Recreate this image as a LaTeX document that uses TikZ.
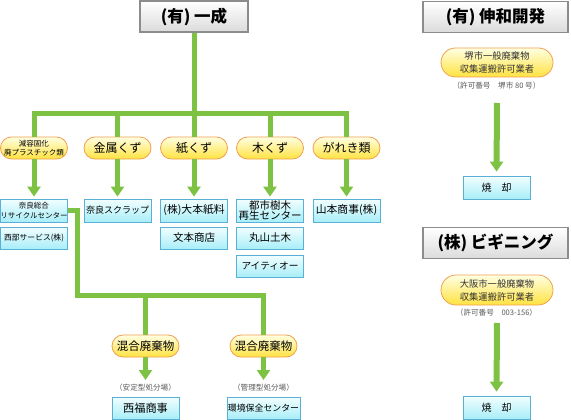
\documentclass[tikz,border=0pt]{standalone}
\usepackage{fontspec}
\setmainfont{Noto Sans CJK JP}
\usetikzlibrary{arrows.meta}
\definecolor{grn}{HTML}{7DC242}
\definecolor{pillt}{HTML}{FFFFE2}
\definecolor{pillbot}{HTML}{FFE240}
\definecolor{pillb}{HTML}{F0A050}
\definecolor{boxt}{HTML}{F2FEFF}
\definecolor{boxbot}{HTML}{A8EEF8}
\definecolor{boxb}{HTML}{5AAFD6}
\newcommand\fs[1]{\fontsize{#1pt}{#1pt}\selectfont}
\newcommand\fsb[2]{\fontsize{#1pt}{#2pt}\selectfont}
\tikzset{
  gline/.style={draw=grn, line width=5pt},
  garrow/.style={gline, -{Triangle[width=13pt,length=10pt]}},
  topbox/.style={rectangle, draw=gray!90, line width=1.2pt, top color=white, bottom color=gray!28,
    inner sep=0pt, font=\fs{16.5}\bfseries, minimum height=31pt},
  pill/.style={rectangle, rounded corners=11pt, draw=pillb, line width=0.8pt, top color=pillt,
    bottom color=pillbot, minimum width=67pt, minimum height=22pt, inner sep=0pt, align=center},
  cbox/.style={rectangle, draw=boxb, line width=0.8pt, top color=boxt, bottom color=boxbot,
    minimum width=67pt, minimum height=22pt, inner sep=0pt, align=center},
  captxt/.style={inner sep=0pt, text=gray!70!black, font=\fs{7.6}},
}
\begin{document}
\begin{tikzpicture}[x=1pt,y=-1pt]
\useasboundingbox (0,0) rectangle (571,420);
% top boxes
\node[topbox, minimum width=108pt] (t1) at (194,16.5) {(有) 一成};
\node[topbox, minimum width=145pt] (t2) at (495.5,17) {(有) 伸和開発};
\node[topbox, minimum width=145pt] (t3) at (495.5,243) {(株) ビギニング};
% pills row
\node[pill, font=\fsb{7.5}{9}] (p1) at (34,148) {減容固化\\廃プラスチック類};
\node[pill, font=\fs{12}] (p2) at (117.5,148) {金属くず};
\node[pill, font=\fs{12}] (p3) at (194,148) {紙くず};
\node[pill, font=\fs{12}] (p4) at (270,148) {木くず};
\node[pill, font=\fs{12}] (p5) at (346.5,148) {がれき類};
% boxes
\node[cbox, minimum height=23pt, font=\fsb{7.5}{10}] (b1) at (34,210.5) {奈良総合\\リサイクルセンター};
\node[cbox, font=\fs{7.8}] (b1b) at (34,238) {西部サービス(株)};
\node[cbox, minimum height=23pt, font=\fs{9}] (b2) at (117.5,210.5) {奈良スクラップ};
\node[cbox, minimum height=23pt, font=\fs{10.8}] (b3) at (194,210.5) {(株)大本紙料};
\node[cbox, font=\fs{10.5}] (b3b) at (194,238) {文本商店};
\node[cbox, minimum height=23pt, font=\fsb{10.5}{10.5}] (b4) at (270,210.5) {都市樹木\\再生センター};
\node[cbox, font=\fs{10.5}] (b4b) at (270,238) {丸山土木};
\node[cbox, font=\fs{9.7}] (b4c) at (270,266) {アイティオー};
\node[cbox, minimum height=23pt, font=\fs{10.8}] (b5) at (346.5,210.5) {山本商事(株)};
% bottom
\node[pill, font=\fs{11.5}] (q1) at (145.5,346) {混合廃棄物};
\node[pill, font=\fs{11.5}] (q2) at (263.5,346) {混合廃棄物};
\node[captxt] (c1) at (145.5,388) {（安定型処分場）};
\node[captxt] (c2) at (263.5,388) {（管理型処分場）};
\node[cbox, font=\fs{11.2}] (d1) at (145.5,408) {西福商事};
\node[cbox, minimum width=73pt, font=\fs{8.9}] (d2) at (263.5,408) {環境保全センター};
% right column
\node[pill, rounded corners=14.5pt, minimum width=112pt, minimum height=29pt, text=black!80, font=\fsb{9.3}{13}] (rp1) at (497,62.5) {堺市一般廃棄物\\収集運搬許可業者};
\node[captxt] (rc1) at (496.5,86) {（許可番号　堺市 80 号）};
\node[cbox, minimum height=23pt, font=\fs{10}] (y1) at (496.5,187.5) {焼　却};
\node[pill, rounded corners=15pt, minimum width=112pt, minimum height=30pt, text=black!80, font=\fsb{9.3}{13}] (rp2) at (497,290) {大阪市一般廃棄物\\収集運搬許可業者};
\node[captxt] (rc2) at (496.5,313) {（許可番号　003-156）};
\node[cbox, minimum height=23pt, font=\fs{10}] (y2) at (496.5,407.5) {焼　却};
% coordinates
\coordinate (j0) at (194,114);
\coordinate (k1) at (77,295);
\coordinate (a1) at (145.5,380);
\coordinate (a2) at (263.5,380);
\coordinate (rs1) at (497,103);
\coordinate (rs2) at (497,323);
% connectors
\draw[gline] (t1.south) -- (j0);
\draw[gline] (p1.north) |- (j0) -| (p5.north);
\draw[gline] (p2.north |- j0) -- (p2.north);
\draw[gline] (p3.north |- j0) -- (p3.north);
\draw[gline] (p4.north |- j0) -- (p4.north);
\draw[garrow, shorten >=2pt] (p1.south) -- (b1.north);
\draw[garrow, shorten >=2pt] (p2.south) -- (b2.north);
\draw[garrow, shorten >=2pt] (p3.south) -- (b3.north);
\draw[garrow, shorten >=2pt] (p4.south) -- (b4.north);
\draw[garrow, shorten >=2pt] (p5.south) -- (b5.north);
\draw[gline] (b1.east) -| (k1) -| (q2.north);
\draw[gline] (k1 -| q1.north) -- (q1.north);
\draw[garrow] (q1.south) -- (a1);
\draw[garrow] (q2.south) -- (a2);
\draw[garrow, line width=6pt, shorten >=4pt] (rs1) -- (y1.north);
\draw[garrow, line width=6pt, shorten >=4pt] (rs2) -- (y2.north);
\end{tikzpicture}
\end{document}
